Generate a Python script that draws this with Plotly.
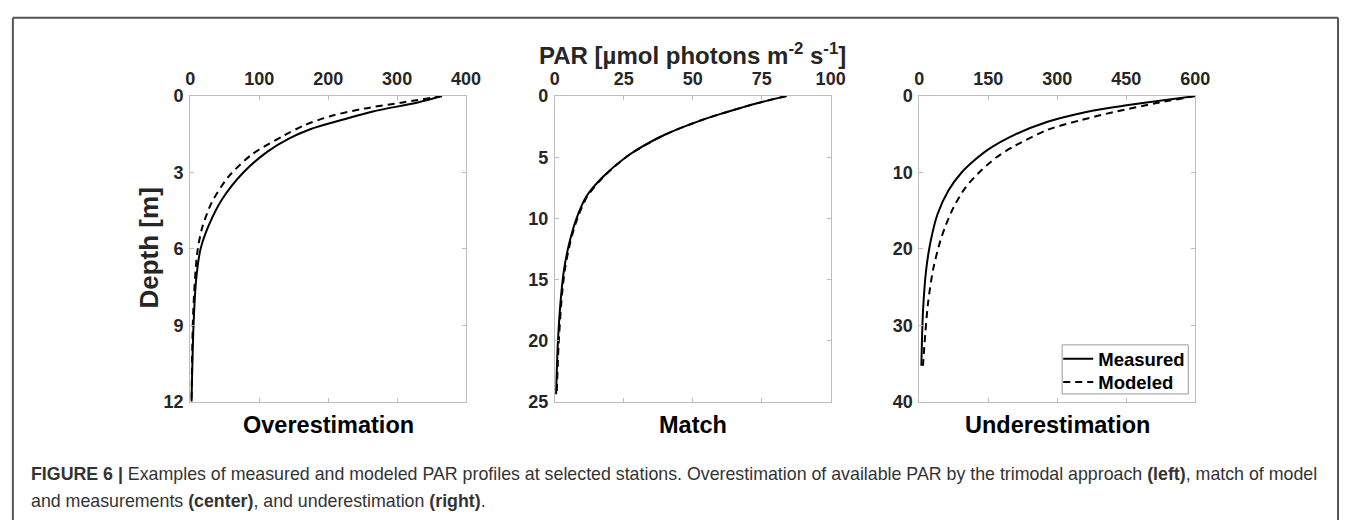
import plotly.graph_objects as go

# ---------------- data ----------------
# Panel 1: Overestimation
p1_depth_meas = [0, 0.25, 0.6, 0.92, 1.3, 1.67, 2.18, 3.0, 4.06, 5.07, 6.0, 7.2, 9.0, 12.0]
p1_par_meas = [365, 330, 265, 222, 174, 143, 112, 77, 46, 27, 15, 8.6, 4.8, 1.9]
p1_depth_mod = [0, 0.23, 0.5, 0.79, 1.15, 1.55, 2.3, 3.18, 4.19, 5.2, 6.2, 8.5, 12.0]
p1_par_mod = [365, 312, 250, 203, 165, 136, 89, 55, 31, 17, 10, 4.3, 1.9]

# Panel 2: Match
p2_depth_meas = [0, 0.6, 1.26, 1.9, 3.2, 4.8, 6.6, 8.2, 10, 11.9, 14, 16.3, 20.3, 24.4]
p2_par_meas = [84, 73, 63, 54, 39.5, 27, 17.5, 11.5, 7.9, 5.4, 3.5, 2.3, 1.1, 0.5]
p2_depth_mod = [0, 0.6, 1.26, 1.9, 3.2, 4.8, 6.6, 8.2, 10, 11.9, 14, 16.3, 20.3, 24.4]
p2_par_mod = [84, 73, 63, 54, 39.5, 27, 17.7, 11.8, 8.2, 5.7, 3.8, 2.6, 1.4, 0.7]

# Panel 3: Underestimation
p3_depth_meas = [0, 0.84, 1.47, 2.23, 3.36, 5.04, 6.94, 8.5, 10.0, 12.3, 15.4, 18.9, 22.7, 28.2, 35.3]
p3_par_meas = [600, 494, 422, 351, 279, 208, 151, 118, 92, 64, 40, 25, 15, 8, 4.5]
p3_depth_mod = [0, 0.84, 2.1, 3.15, 4.41, 6.5, 8.0, 10.0, 12.0, 14.5, 17.0, 18.9, 22.7, 27.3, 32.4, 35.3]
p3_par_mod = [600, 522, 422, 351, 279, 208, 168, 130, 100, 75, 57, 46, 30, 18.6, 11.4, 8]

x_ranges = [[0, 400], [0, 100], [0, 600]]
x_dticks = [100, 25, 150]
y_ranges = [[12, 0], [25, 0], [40, 0]]
y_dticks = [3, 5, 10]
panel_titles = ["Overestimation", "Match", "Underestimation"]
series_names = ["Measured", "Modeled"]

# ---------------- layout geometry (window pixels) ----------------
W, H = 1355, 530


def fx(X):
    return X / W


def fy(Y):
    return 1 - Y / H


px_left = [188, 558, 928]
px_width = 280
py_top, py_bot = 89.5, 407

FONT = "Liberation Sans, Arial, sans-serif"
TXT = "#262626"

fig = go.Figure()

panels = [
    (p1_par_meas, p1_depth_meas, p1_par_mod, p1_depth_mod),
    (p2_par_meas, p2_depth_meas, p2_par_mod, p2_depth_mod),
    (p3_par_meas, p3_depth_meas, p3_par_mod, p3_depth_mod),
]

for i, (xm, ym, xd, yd) in enumerate(panels):
    ax = "" if i == 0 else str(i + 1)
    last = i == 2
    fig.add_trace(go.Scatter(
        x=xd, y=yd, mode="lines", name=series_names[1],
        line=dict(color="black", width=2, dash="7px,5px", shape="spline", smoothing=0.8),
        xaxis="x" + ax, yaxis="y" + ax, showlegend=last, legend="legend2"))
    fig.add_trace(go.Scatter(
        x=xm, y=ym, mode="lines", name=series_names[0],
        line=dict(color="black", width=2, shape="spline", smoothing=0.8),
        xaxis="x" + ax, yaxis="y" + ax, showlegend=last, legend="legend"))

    axis_common = dict(
        showgrid=False, zeroline=False, showline=True, linecolor="#bdbdbd", linewidth=1,
        mirror="ticks", ticks="inside", ticklen=4, tickcolor="#bdbdbd", tickwidth=1,
        tickfont=dict(family=FONT, size=18, color=TXT, weight="bold"),
    )
    fig.update_layout(**{
        "xaxis" + ax: dict(
            axis_common, domain=[fx(px_left[i]), fx(px_left[i] + px_width)],
            range=x_ranges[i], dtick=x_dticks[i], tick0=0, side="top",
            anchor="y" + ax, ticklabelstandoff=3),
        "yaxis" + ax: dict(
            axis_common, domain=[fy(py_bot), fy(py_top)],
            range=y_ranges[i], dtick=y_dticks[i], tick0=0,
            anchor="x" + ax, ticklabelstandoff=2),
    })

annotations = []
for i, t in enumerate(panel_titles):
    annotations.append(dict(
        text="<b>" + t + "</b>", x=fx(px_left[i] + px_width / 2), y=fy(431),
        xref="paper", yref="paper", xanchor="center", yanchor="middle", showarrow=False,
        font=dict(family=FONT, size=23.5, color="black")))

annotations.append(dict(
    text="<b>PAR [µmol photons m<sup>-2</sup> s<sup>-1</sup>]</b>",
    x=fx(px_left[1] + px_width / 2), y=fy(46), xref="paper", yref="paper",
    xanchor="center", yanchor="middle", showarrow=False,
    font=dict(family=FONT, size=24, color=TXT)))
annotations.append(dict(
    text="<b>Depth [m]</b>", x=fx(146), y=fy(247), xref="paper", yref="paper",
    xanchor="center", yanchor="middle", showarrow=False, textangle=-90,
    font=dict(family=FONT, size=26, color=TXT)))

cap1 = ("<b>FIGURE 6 |</b> Examples of measured and modeled PAR profiles at selected stations. "
        "Overestimation of available PAR by the trimodal approach <b>(left)</b>, match of model")
cap2 = "and measurements <b>(center)</b>, and underestimation <b>(right)</b>."
for txt, yy in [(cap1, 482), (cap2, 510)]:
    annotations.append(dict(
        text=txt, x=fx(24), y=fy(yy), xref="paper", yref="paper",
        xanchor="left", yanchor="middle", showarrow=False, align="left",
        font=dict(family=FONT, size=17.8, color="#333333")))

legend_common = dict(
    xanchor="left", yanchor="middle",
    bgcolor="rgba(0,0,0,0)", borderwidth=0,
    font=dict(family=FONT, size=18.5, color="black", weight="bold"),
    itemwidth=30, tracegroupgap=0)

fig.update_layout(
    width=W, height=H, margin=dict(l=0, r=0, t=0, b=0),
    paper_bgcolor="white", plot_bgcolor="white",
    annotations=annotations,
    showlegend=True,
    legend=dict(legend_common, x=fx(1069), y=fy(363)),
    legend2=dict(legend_common, x=fx(1069), y=fy(387)),
)

# legend box
fig.add_shape(type="rect", x0=fx(1073), x1=fx(1201), y0=fy(399), y1=fy(348),
              xref="paper", yref="paper", fillcolor="white",
              line=dict(color="#9a9a9a", width=1), layer="above")

# outer frame
frame = dict(color="#555555", width=2)
fig.add_shape(type="line", x0=fx(8), x1=fx(8), y0=0, y1=fy(8), xref="paper", yref="paper", line=frame)
fig.add_shape(type="line", x0=fx(8), x1=fx(1353), y0=fy(8), y1=fy(8), xref="paper", yref="paper", line=frame)
fig.add_shape(type="line", x0=fx(1353), x1=fx(1353), y0=0, y1=fy(8), xref="paper", yref="paper", line=frame)

fig.write_html("out.html")
